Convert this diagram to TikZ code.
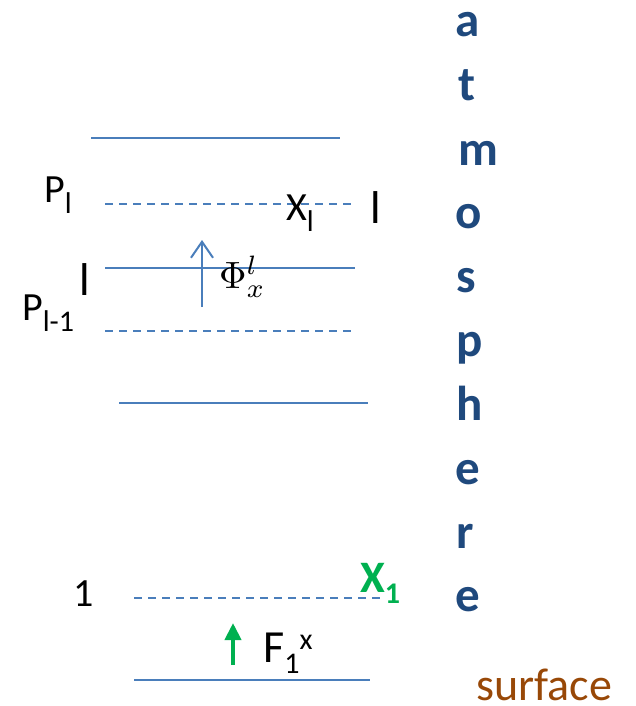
\documentclass[tikz,border=0pt]{standalone}
\usepackage{fontspec}
\setmainfont{Carlito}
\usepackage{tikz}
\usetikzlibrary{arrows.meta,positioning}
\definecolor{layerblue}{HTML}{4A7EBB}
\definecolor{atmblue}{HTML}{1F497D}
\definecolor{fluxgreen}{HTML}{00B050}
\definecolor{surfbrown}{HTML}{984807}
\newcommand\Sub[1]{\raisebox{-11pt}{\fontsize{30}{30}\selectfont #1}}
\newcommand\Sup[1]{\raisebox{13pt}{\fontsize{30}{30}\selectfont #1}}
\tikzset{
  level/.style={
    draw = layerblue,
    line width = 1.5pt
  },
  midlevel/.style={
    draw = layerblue,
    line width = 1.5pt,
    dash pattern = on 8pt off 6pt
  },
  lab/.style={
    anchor = base west,
    inner sep = 0pt,
    font = \fontsize{40}{44}\selectfont
  },
  biglab/.style={
    anchor = base west,
    inner sep = 0pt,
    font = \fontsize{46}{50}\selectfont
  },
  atm/.style={
    anchor = base,
    inner sep = 0pt,
    text = atmblue,
    font = \fontsize{49}{52}\selectfont\bfseries
  },
}

\begin{document}
\begin{tikzpicture}[x=1pt, y=-1pt]
    \useasboundingbox (0,0) rectangle (636,706);

    % layers
    \draw[level] (91,138) -- (340,138);
    \draw[midlevel] (105,204) -- (355,204);
    \draw[level] (105,268) -- (355,268);
    \draw[midlevel] (105,331) -- (355,331);
    \draw[level] (119,403) -- (368,403);
    \draw[midlevel] (134,598) -- (383,598);
    \draw[level] (134,680) -- (370,680);

    % labels of layer l
    \node[lab] (pl) at (44,202) {P\Sub{l}};
    \node[lab] (xl) at (286,220) {X\Sub{l}};
    \node[biglab] (il) at (370,223) {l};
    \node[biglab] (ilow) at (79,295) {l};
    \node[lab] (plm) at (22,320) {P\Sub{l-1}};
    \node[anchor=base west, inner sep=0pt] (phi) at (219,288) {\scalebox{3.8}{$\Phi^{l}_{x}$}};

    \coordinate (phibot) at (202,307);
    \coordinate (phitop) at (202,240);
    \draw[layerblue, line width=2pt, -{Straight Barb[length=16pt, width=22pt]}] (phibot) -- (phitop);

    % first layer
    \node[lab] (one) at (73,606) {1};
    \node[lab, text=fluxgreen, font=\fontsize{45}{48}\selectfont\bfseries] (x1) at (360,592) {X\Sub{1}};
    \node[biglab] (f1) at (263,662) {F\Sub{1}\Sup{x}};

    \coordinate (fbot) at (233,665);
    \coordinate (ftop) at (233,623);
    \draw[fluxgreen, line width=4pt, -{Triangle[length=17pt, width=16pt]}] (fbot) -- (ftop);

    % atmosphere
    \node[atm] (a1) at (468,37) {a};
    \node[atm] (a2) at (467,101) {t};
    \node[atm] (a3) at (478,165) {m};
    \node[atm] (a4) at (469,228) {o};
    \node[atm] (a5) at (466,292) {s};
    \node[atm] (a6) at (470,356) {p};
    \node[atm] (a7) at (470,420) {h};
    \node[atm] (a8) at (468,484) {e};
    \node[atm] (a9) at (465,548) {r};
    \node[atm] (a10) at (468,611) {e};

    \node[biglab, text=surfbrown] (surf) at (476,700) {surface};
\end{tikzpicture}
\end{document}
